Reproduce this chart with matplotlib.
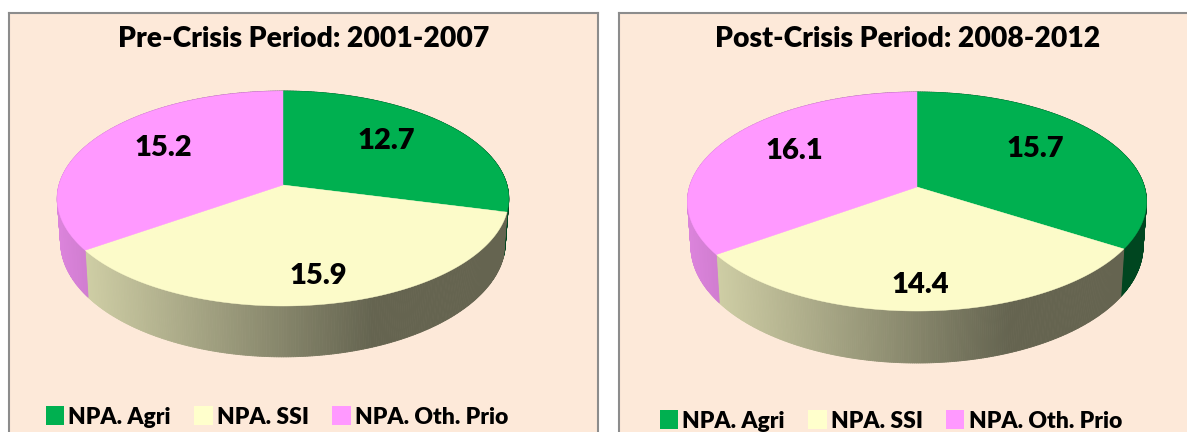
import numpy as np
import matplotlib
matplotlib.use("Agg")
import matplotlib.pyplot as plt
from matplotlib.patches import Polygon, Patch
from matplotlib.collections import PolyCollection
from matplotlib.colors import to_rgb

W, H = 1187, 432
plt.rcParams['font.family'] = ['Lato', 'DejaVu Sans']

categories = ["NPA. Agri", "NPA. SSI", "NPA. Oth. Prio"]
pre_values = [12.7, 15.9, 15.2]
post_values = [15.7, 14.4, 16.1]
titles = ["Pre-Crisis Period: 2001-2007", "Post-Crisis Period: 2008-2012"]
colors = ["#00B050", "#FCFBC9", "#FF99FF"]
BG = "#FDE9D9"

panels = [
    dict(values=pre_values, title=titles[0], box=(9, 13, 598, 445), cx=283, y0=185, w=224, h=105.8, c=.1256,
         dy=42.4, sy=1.07, nudge=[(-8, 3), (4, -2), (8, -1)], leg_y=417, leg_x=46, tx=303.5, ty=39),
    dict(values=post_values, title=titles[1], box=(619, 13, 1190, 445), cx=917, y0=187, w=227.5, h=107.6, c=.1324,
         dy=43.8, sy=1.066, nudge=[(-9, 0), (-2, 1), (7, 0)], leg_y=421, leg_x=660, tx=907.5, ty=39),
]
SX = 0.985


def project(p, theta, bottom=False):
    u, v = np.sin(theta), np.cos(theta)
    k = 1 / (1 + p['c'] * v)
    if bottom:
        return p['cx'] + SX * p['w'] * u * k, p['y0'] + p['dy'] - p['sy'] * p['h'] * v * k
    return p['cx'] + p['w'] * u * k, p['y0'] - p['h'] * v * k


def shade(nx):
    return np.interp(nx, [-1, 0.4, 1], [0.86, 0.40, 0.40])


fig = plt.figure(figsize=(W / 100, H / 100), dpi=100, facecolor="white")

for p in panels:
    l, t, r, b = p['box']
    ax = fig.add_axes([l / W, 1 - b / H, (r - l) / W, (b - t) / H], facecolor=BG)
    ax.set_xlim(l, r)
    ax.set_ylim(b, t)
    ax.set_xticks([])
    ax.set_yticks([])
    for s in ax.spines.values():
        s.set_color("#8C8C8C")
        s.set_linewidth(1.5)

    vals = np.array(p['values'], float)
    edges = np.concatenate([[0], np.cumsum(vals) / vals.sum() * 2 * np.pi])

    # outer walls: narrow strips shaded by horizontal position
    for i, col in enumerate(colors):
        th = np.linspace(edges[i], edges[i + 1], 240)
        tx, ty = project(p, th)
        bx, by = project(p, th, bottom=True)
        quads, fcs = [], []
        for j in range(len(th) - 1):
            quads.append([(tx[j], ty[j]), (tx[j + 1], ty[j + 1]), (bx[j + 1], by[j + 1]), (bx[j], by[j])])
            nx = ((tx[j] + bx[j]) / 2 - p['cx']) / p['w']
            fcs.append(np.array(to_rgb(col)) * shade(nx))
        ax.add_collection(PolyCollection(quads, facecolors=fcs, edgecolors=fcs, linewidths=0.6, zorder=2))

    # top faces
    for i, col in enumerate(colors):
        th = np.linspace(edges[i], edges[i + 1], 200)
        tx, ty = project(p, th)
        poly = np.vstack([[p['cx'], p['y0']], np.c_[tx, ty]])
        ax.add_patch(Polygon(poly, closed=True, fc=col, ec=col, lw=0.3, zorder=3))

    # value labels
    for i, v in enumerate(vals):
        mid = (edges[i] + edges[i + 1]) / 2
        x, y = project(p, mid)
        x = p['cx'] + (x - p['cx']) * 0.68 + p['nudge'][i][0]
        y = p['y0'] + (y - p['y0']) * 0.78 + p['nudge'][i][1]
        ax.text(x, y, f"{v:.1f}", ha='center', va='center', fontsize=21, fontweight='heavy', color='black', zorder=4)

    ax.text(p['tx'], p['ty'], p['title'], ha='center', va='center', fontsize=20.3, fontweight='heavy', color='black')

    handles = [Patch(fc=c, ec='none', label=n) for c, n in zip(["#00B050", "#FFFFCC", "#FF99FF"], categories)]
    ax.legend(handles=handles, loc='center left', bbox_to_anchor=(p['leg_x'], p['leg_y']),
              bbox_transform=ax.transData, ncol=3, frameon=False, prop=dict(size=16.5, weight='heavy'),
              handlelength=0.8, handleheight=0.85, handletextpad=0.18, columnspacing=1.02,
              borderpad=0, borderaxespad=0)

fig.savefig("out.png", dpi=100, facecolor="white")
